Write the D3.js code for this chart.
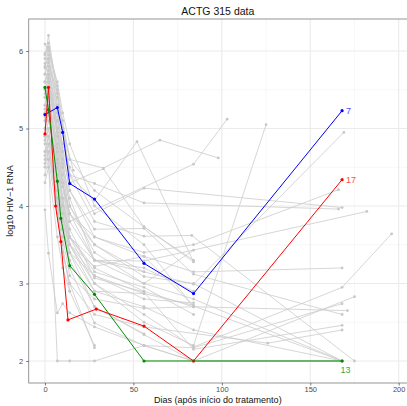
<!DOCTYPE html>
<html>
<head>
<meta charset="utf-8">
<script src="https://cdn.jsdelivr.net/npm/d3@7"></script>
<style>
  body { margin: 0; background: #fff; }
  svg { display: block; font-family: "Liberation Sans", Arial, sans-serif; }
</style>
</head>
<body>
<script>
// gray subjects: visit days and log10 RNA values
const grayDays = [
  [0,2,7,10,14,28,52,84],
  [0,2,7,14,33,65,98],
  [0,2,7,10,14,84,103],
  [0,2,7,10,14,28,56,84,125],
  [0,2,7,10,14,28,56,84,169],
  [0,2,7,10,14,28,56,84,166],
  [0,2,7,10,14,28,56,168],
  [0,2,7,14,28,56,166],
  [0,2,7,10,14,28,56,182],
  [0,2,7,10,14,28,56,84,168,196],
  [0,2,7,14,28,56,84,168],
  [0,2,7,10,14,28,56,84,175],
  [0,2,7,10,14,28,56,84,168],
  [0,2,7,10,14,28,56,84,168],
  [0,2,7,10,14,28,56,84,171],
  [0,2,7,10,14,28,56,84,168],
  [0,2,7,10,14,28,56,126,168],
  [0,2,7,10,14,28,56,83,175],
  [0,2,7,10,14,28,56,84,168],
  [0,2,7,10,14,28,56,84,168],
  [0,2,7,10,14,28,56,84],
  [0,2,7,10,14,28,56,84,168],
  [0,2,7,14,28,56,84,168],
  [0,2,7,10,14,33,56,84],
  [0,2,7,10,14,28,56,84],
  [0,2,7,10,14,28],
  [0,2,7,10,14,28,56],
  [0,2,7,10,14,28,56,84],
  [0,2,7,10,14],
  [0,2,7,10,14,28,56,84,168],
  [0,2,7,10,14,28,56,84],
  [0,2,7,10,14,28,56,84],
  [0,2,7,10,14,28],
  [0,2,7,10,14,28,56,84,168],
  [0,2,7,10,14,28,56,84],
  [0,2,7,10,14,28,56],
  [0,2,7,14,28,56,84],
  [0,2,7,10,14,28,56,84],
  [0,2,7,10,16],
  [0,2,7,10,14,28,56]
];
const grayRna = [
  [5.9,6.2,5.4,5.0,4.4,4.07,4.83,3.28],
  [5.8,6.05,5.3,4.6,4.49,4.85,4.62],
  [5.5,5.7,5.0,4.5,3.8,4.54,5.12],
  [5.2,5.4,4.6,4.1,3.6,3.0,2.5,2.2,5.05],
  [5.6,5.8,5.0,4.4,3.9,3.5,3.15,2.99,4.95],
  [5.0,5.3,4.7,4.3,3.9,3.6,3.4,3.5,4.21],
  [5.4,5.6,5.1,4.8,4.5,3.9,4.23,3.98],
  [5.7,5.9,5.0,4.4,4.29,4.04,3.96],
  [4.9,5.1,4.5,4.0,3.6,3.3,3.29,3.93],
  [5.3,5.5,4.6,4.0,3.5,3.0,2.6,2.18,2.95,3.64],
  [4.6,4.8,4.0,3.5,3.22,3.35,3.15,3.2],
  [5.1,5.3,4.3,3.8,3.3,2.7,2.34,2.0,2.83],
  [4.8,5.0,4.2,3.7,3.2,2.49,2.2,2.17,2.74],
  [5.6,5.75,5.2,4.7,4.2,3.7,3.71,3.12,2.6],
  [4.5,4.7,4.1,3.6,3.1,2.8,2.68,2.7,2.65],
  [5.2,5.4,4.8,4.3,3.7,3.07,2.89,2.15,2.46],
  [4.4,4.6,3.9,3.4,3.0,2.6,2.44,2.23,2.4],
  [5.95,6.05,5.5,5.0,4.4,3.8,3.61,3.62,2.0],
  [5.4,5.6,4.9,4.5,4.0,3.5,3.09,3.0,2.0],
  [5.84,5.9,5.3,4.7,4.2,3.6,3.35,2.71,2.0],
  [5.78,5.95,5.2,4.6,4.0,3.4,3.0,3.43],
  [3.95,3.39,2.62,2.74,2.62,2.44,2.2,2.0,2.0],
  [4.9,4.6,2.0,2.0,2.0,2.2,2.0,2.0],
  [5.3,5.5,5.0,4.6,4.3,4.48,3.73,3.28],
  [5.0,5.2,4.4,3.9,3.4,2.9,2.87,2.72],
  [4.7,4.9,4.0,3.4,3.0,2.17],
  [5.5,5.65,4.9,4.3,3.8,3.3,3.15],
  [5.1,5.2,4.5,4.1,3.6,3.2,2.9,2.7],
  [4.3,4.5,3.6,3.2,2.9],
  [5.6,5.7,4.7,4.1,3.5,2.9,2.7,2.4,2.0],
  [4.7,4.9,4.3,3.9,3.5,3.1,2.8,2.75],
  [6.09,6.0,5.6,5.2,4.8,4.0,3.5,2.7],
  [4.55,4.7,4.0,3.5,2.9,2.2],
  [5.45,5.5,4.95,4.55,4.1,3.3,3.0,2.8,2.0],
  [5.97,6.1,5.55,5.1,4.6,4.2,3.73,3.3],
  [4.85,5.0,4.3,3.9,3.4,2.7,2.35],
  [5.15,5.25,4.55,3.9,3.3,3.2,2.9],
  [5.25,5.35,4.75,4.25,3.6,3.15,2.95,2.6],
  [5.7,5.85,5.45,5.0,4.46],
  [4.65,4.8,4.1,3.7,3.4,3.1,2.87]
];

// highlighted subjects
const hiIds = ["7", "17", "13"];
const hiColors = ["#0000ff", "#ff0000", "#008b00"];
const hiLabelColors = ["#4d4dff", "#ff4d4d", "#3aa83a"];
const hiDays = [
  [0,7,10,14,28,56,84,168],
  [0,2,6,9,13,29,56,84,168],
  [0,2,7,9,14,28,56,168]
];
const hiRna = [
  [5.18,5.27,4.95,4.29,4.09,3.26,2.87,5.23],
  [4.93,5.53,4.0,3.54,2.53,2.67,2.45,2.0,4.34],
  [5.53,5.24,4.32,3.84,3.23,2.86,2.0,2.0]
];

const xTicks = [0, 50, 100, 150, 200];
const xMinor = [25, 75, 125, 175];
const yTicks = [2, 3, 4, 5, 6];
const yMinor = [2.5, 3.5, 4.5, 5.5];

const W = 407, H = 406;
const margin = {top: 19, right: 0, bottom: 23, left: 28.7};

const svg = d3.select("body").append("svg")
    .attr("width", W)
    .attr("height", H);

const x = d3.scaleLinear().domain([-9.2, 204.7]).range([margin.left, W - margin.right]);
const y = d3.scaleLinear().domain([1.716, 6.413]).range([H - margin.bottom, margin.top]);

const x0 = margin.left, x1 = W - margin.right, y0 = margin.top, y1 = H - margin.bottom;

// grid
const grid = svg.append("g");
grid.selectAll(".xminor").data(xMinor).enter().append("line")
    .attr("x1", d => x(d)).attr("x2", d => x(d)).attr("y1", y0).attr("y2", y1)
    .attr("stroke", "#f2f2f2").attr("stroke-width", 0.6);
grid.selectAll(".yminor").data(yMinor).enter().append("line")
    .attr("y1", d => y(d)).attr("y2", d => y(d)).attr("x1", x0).attr("x2", x1)
    .attr("stroke", "#f2f2f2").attr("stroke-width", 0.6);
grid.selectAll(".xmajor").data(xTicks).enter().append("line")
    .attr("x1", d => x(d)).attr("x2", d => x(d)).attr("y1", y0).attr("y2", y1)
    .attr("stroke", "#ebebeb").attr("stroke-width", 1.1);
grid.selectAll(".ymajor").data(yTicks).enter().append("line")
    .attr("y1", d => y(d)).attr("y2", d => y(d)).attr("x1", x0).attr("x2", x1)
    .attr("stroke", "#ebebeb").attr("stroke-width", 1.1);

// border
svg.append("rect")
    .attr("x", x0).attr("y", y0)
    .attr("width", x1 - x0 + 2).attr("height", y1 - y0)
    .attr("fill", "none").attr("stroke", "#8a8a8a").attr("stroke-width", 0.9);

const line = d3.line().x(d => x(d[0])).y(d => y(d[1]));

function pairs(days, vals) { return days.map((d, i) => [d, vals[i]]); }

// gray spaghetti
const grayData = grayDays.map((d, i) => pairs(d, grayRna[i]));
const gg = svg.append("g");
gg.selectAll("path").data(grayData).enter().append("path")
    .attr("d", line)
    .attr("fill", "none").attr("stroke", "#cccccc").attr("stroke-width", 0.8);
gg.selectAll("circle").data(grayData.flat()).enter().append("circle")
    .attr("cx", d => x(d[0])).attr("cy", d => y(d[1])).attr("r", 1.4)
    .attr("fill", "#c8c8c8");

// highlighted subjects
hiIds.forEach(function(id, k) {
    const pts = pairs(hiDays[k], hiRna[k]);
    const g = svg.append("g");
    g.append("path").datum(pts)
        .attr("d", line)
        .attr("fill", "none").attr("stroke", hiColors[k]).attr("stroke-width", 1);
    g.selectAll("circle").data(pts).enter().append("circle")
        .attr("cx", d => x(d[0])).attr("cy", d => y(d[1])).attr("r", 1.6)
        .attr("fill", hiColors[k]);
    const last = pts[pts.length - 1];
    const below = id === "13";
    g.append("text")
        .attr("x", x(last[0]) + (below ? 3.5 : 4))
        .attr("y", y(last[1]) + (below ? 9 : 0))
        .attr("dy", "0.35em")
        .attr("text-anchor", below ? "middle" : "start")
        .attr("font-size", 9)
        .attr("fill", hiLabelColors[k])
        .text(id);
});

// axes
const xAxis = svg.append("g").attr("transform", `translate(0,${y1})`)
    .call(d3.axisBottom(x).tickValues(xTicks).tickSize(2.5).tickPadding(1.5));
const yAxis = svg.append("g").attr("transform", `translate(${x0},0)`)
    .call(d3.axisLeft(y).tickValues(yTicks).tickFormat(d3.format("d")).tickSize(2.5).tickPadding(3));
[xAxis, yAxis].forEach(function(a) {
    a.select(".domain").remove();
    a.selectAll(".tick line").attr("stroke", "#555").attr("stroke-width", 0.8);
    a.selectAll("text").attr("fill", "#4d4d4d").attr("font-size", 7.5)
        .attr("font-family", "Liberation Sans, Arial, sans-serif");
});

// titles
svg.append("text")
    .attr("x", (x0 + x1) / 2).attr("y", 14.5)
    .attr("text-anchor", "middle").attr("font-size", 10.5).attr("fill", "#111")
    .text("ACTG 315 data");
svg.append("text")
    .attr("x", (x0 + x1) / 2).attr("y", 403)
    .attr("text-anchor", "middle").attr("font-size", 9).attr("fill", "#111")
    .text("Dias (após início do tratamento)");
svg.append("text")
    .attr("transform", `translate(12.5,${(y0 + y1) / 2}) rotate(-90)`)
    .attr("text-anchor", "middle").attr("font-size", 9).attr("fill", "#111")
    .text("log10 HIV\u22121 RNA");
</script>
</body>
</html>
